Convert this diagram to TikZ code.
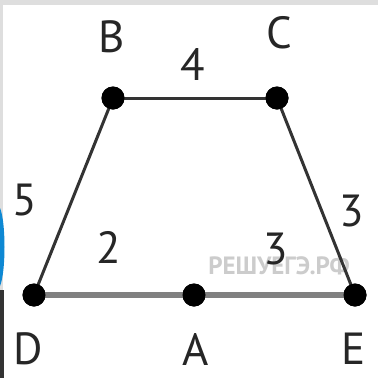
\documentclass[tikz,border=0pt]{standalone}
\usepackage{fontspec}
\setmainfont{PT Sans}
\begin{document}
\begin{tikzpicture}[x=1pt,y=-1pt,
  pt/.style={circle,fill=black,inner sep=0pt,minimum size=23pt},
  lab/.style={font=\fontsize{45}{45}\selectfont,inner sep=0pt,text=black!85},
  edge/.style={line width=3pt,draw=black!80},
  baseedge/.style={line width=6pt,draw=black!50}]
\fill[white] (0,0) rectangle (378,378);
\useasboundingbox (0,0) rectangle (378,378);
% screenshot border artefacts
\fill[black!13] (0,0) rectangle (378,5);
\fill[black!13] (0,0) rectangle (3,378);
\fill[cyan!70!blue] (0,208) .. controls (6,222) and (6,272) .. (0,286) -- cycle;
\fill[black!80] (0,290) rectangle (4,378);
% watermark
\node[font=\bfseries\fontsize{25}{25}\selectfont,text=black!20,inner sep=0pt] (wm) at (279,266) {РЕШУЕГЭ.РФ};
% points
\node[pt] (B) at (113,98) {};
\node[pt] (C) at (277,98) {};
\node[pt] (D) at (34,295) {};
\node[pt] (A) at (194,295) {};
\node[pt] (E) at (355,295) {};
% edges
\draw[baseedge] (D.center) -- (A.center);
\draw[baseedge] (A.center) -- (E.center);
\draw[edge] (B.center) -- (C.center);
\draw[edge] (D.center) -- (B.center);
\draw[edge] (C.center) -- (E.center);
\node[pt] at (B) {};
\node[pt] at (C) {};
\node[pt] at (D) {};
\node[pt] at (A) {};
\node[pt] at (E) {};
% labels
\node[lab] (lB) at (112,37) {B};
\node[lab] (lC) at (279,33) {C};
\node[lab] (lD) at (28,349) {D};
\node[lab] (lA) at (196,349) {A};
\node[lab] (lE) at (354,349) {E};
\node[lab] (l4) at (193,64) {4};
\node[lab] (l5) at (25,200) {5};
\node[lab] (l2) at (109,247) {2};
\node[lab] (l3a) at (276,249) {3};
\node[lab] (l3b) at (352,211) {3};
\end{tikzpicture}
\end{document}
